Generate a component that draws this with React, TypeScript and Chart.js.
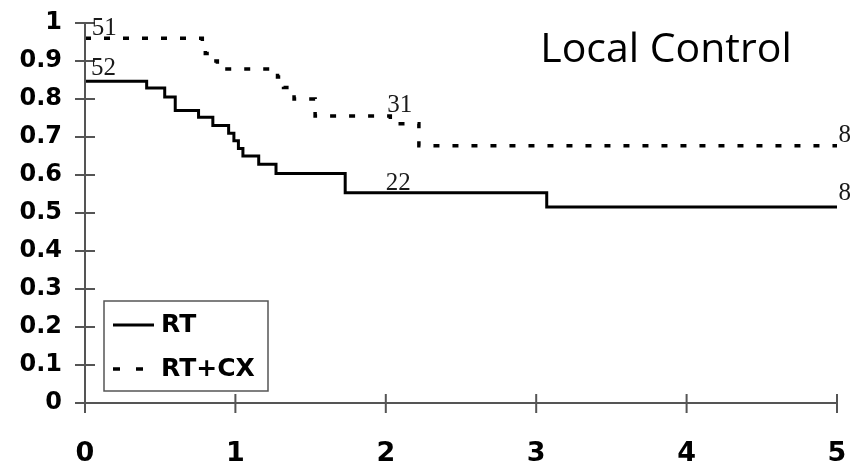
import React, { useEffect, useRef } from "react";
import { Chart, registerables } from "chart.js";

Chart.register(...registerables);

const titleText = "Local Control";

const seriesLabels = ["RT", "RT+CX"];

// Kaplan-Meier steps (time in years, survival fraction)
const rtTimes = [0, 0.41, 0.53, 0.6, 0.755, 0.85, 0.955, 0.99, 1.02, 1.05, 1.155, 1.27, 1.73, 3.07, 5.0];
const rtValues = [0.847, 0.829, 0.805, 0.77, 0.752, 0.73, 0.71, 0.69, 0.67, 0.65, 0.628, 0.604, 0.553, 0.516, 0.516];

const cxTimes = [0, 0.78, 0.8, 0.83, 0.88, 1.28, 1.32, 1.39, 1.53, 2.03, 2.22, 5.0];
const cxValues = [0.96, 0.942, 0.92, 0.9, 0.879, 0.858, 0.83, 0.8, 0.755, 0.735, 0.677, 0.677];

// numbers at risk labels
const riskTexts = ["51", "52", "31", "22", "8", "8"];
const riskTimes = [0.045, 0.04, 2.01, 2.0, 5.01, 5.01];
const riskLevels = [0.968, 0.863, 0.766, 0.56, 0.687, 0.534];

const xTickLabels = ["0", "1", "2", "3", "4", "5"];
const yTickLabels = ["0", "0.1", "0.2", "0.3", "0.4", "0.5", "0.6", "0.7", "0.8", "0.9", "1"];

const axisColor = "#555";

const overlayPlugin = {
  id: "overlay",
  afterDraw(chart: any) {
    const ctx = chart.ctx;
    const xs = chart.scales.x;
    const ys = chart.scales.y;
    const area = chart.chartArea;
    ctx.save();
    // axes with crossing tick marks
    ctx.strokeStyle = axisColor;
    ctx.lineWidth = 2;
    ctx.beginPath();
    ctx.moveTo(area.left, ys.getPixelForValue(1));
    ctx.lineTo(area.left, area.bottom);
    ctx.moveTo(area.left, area.bottom);
    ctx.lineTo(area.right, area.bottom);
    ys.ticks.forEach((t: any) => {
      const py = ys.getPixelForValue(t.value);
      ctx.moveTo(area.left - 10, py);
      ctx.lineTo(area.left + 10, py);
    });
    xs.ticks.forEach((t: any) => {
      const px = xs.getPixelForValue(t.value);
      ctx.moveTo(px, area.bottom - 9);
      ctx.lineTo(px, area.bottom + 10);
    });
    ctx.stroke();

    // at-risk numbers
    ctx.fillStyle = "#1a1a1a";
    ctx.font = "25px 'Liberation Serif', 'DejaVu Serif', serif";
    ctx.textAlign = "left";
    ctx.textBaseline = "alphabetic";
    riskTexts.forEach((txt, i) => {
      ctx.fillText(txt, xs.getPixelForValue(riskTimes[i]), ys.getPixelForValue(riskLevels[i]));
    });

    // title
    ctx.fillStyle = "#000";
    ctx.font = "41px 'Open Sans', sans-serif";
    ctx.textAlign = "center";
    ctx.fillText(titleText, area.left + 581, area.top + 39);

    // legend box
    const bx = area.left + 19;
    const by = area.top + 278;
    const bw = 164;
    const bh = 90;
    ctx.strokeStyle = "#555";
    ctx.lineWidth = 1.5;
    ctx.strokeRect(bx, by, bw, bh);
    const rows = [by + 24, by + 68];
    chart.data.datasets.forEach((ds: any, i: number) => {
      const ry = rows[i];
      ctx.strokeStyle = "#000";
      ctx.lineWidth = ds.borderWidth;
      ctx.setLineDash(i === 0 ? [] : [7, 16]);
      ctx.beginPath();
      ctx.moveTo(bx + 9, ry);
      ctx.lineTo(bx + 50, ry);
      ctx.stroke();
      ctx.setLineDash([]);
      ctx.fillStyle = "#000";
      ctx.font = "bold 25px 'DejaVu Sans', sans-serif";
      ctx.textAlign = "left";
      ctx.textBaseline = "middle";
      ctx.fillText(ds.label, bx + 57, ry);
    });
    ctx.restore();
  },
};

const zeroPad = (s: any) => {
  s.paddingLeft = 0;
  s.paddingRight = 0;
  s.paddingTop = 0;
  s.paddingBottom = 0;
};

export default function App() {
  const canvasRef = useRef<HTMLCanvasElement | null>(null);

  useEffect(() => {
    if (!canvasRef.current) return;
    const chart = new Chart(canvasRef.current, {
      type: "line",
      data: {
        datasets: [
          {
            label: seriesLabels[0],
            data: rtTimes.map((t, i) => ({ x: t, y: rtValues[i] })),
            borderColor: "#000",
            borderWidth: 3,
            stepped: "before",
            pointRadius: 0,
            fill: false,
          },
          {
            label: seriesLabels[1],
            data: cxTimes.map((t, i) => ({ x: t, y: cxValues[i] })),
            borderColor: "#000",
            borderWidth: 3.5,
            borderDash: [6, 13],
            stepped: "before",
            pointRadius: 0,
            fill: false,
          },
        ],
      },
      options: {
        responsive: false,
        animation: false,
        layout: { padding: { top: 23, right: 13, left: 0, bottom: 0 } },
        plugins: {
          legend: { display: false },
          title: { display: false },
          tooltip: { enabled: false },
        },
        scales: {
          x: {
            type: "linear",
            min: 0,
            max: 5,
            grid: { display: false, drawTicks: false },
            border: { display: false },
            ticks: {
              stepSize: 1,
              padding: 35,
              maxRotation: 0,
              color: "#000",
              font: { family: "'DejaVu Sans', sans-serif", size: 27, weight: "bold" },
              callback: (_v: any, i: number) => xTickLabels[i],
            },
            afterFit: (s: any) => {
              s.height = 63;
              zeroPad(s);
            },
          },
          y: {
            min: 0,
            max: 1,
            grid: { display: false, drawTicks: false },
            border: { display: false },
            ticks: {
              stepSize: 0.1,
              padding: 23,
              color: "#000",
              font: { family: "'DejaVu Sans', sans-serif", size: 24, weight: "bold" },
              callback: (_v: any, i: number) => yTickLabels[i],
            },
            afterFit: (s: any) => {
              s.width = 85;
              zeroPad(s);
            },
          },
        },
      },
      plugins: [overlayPlugin],
    });
    return () => chart.destroy();
  }, []);

  return (
    <div style={{ position: "absolute", left: 0, top: 0, width: 850, height: 466, background: "#fff" }}>
      <canvas ref={canvasRef} width={850} height={466} style={{ display: "block" }} />
    </div>
  );
}
